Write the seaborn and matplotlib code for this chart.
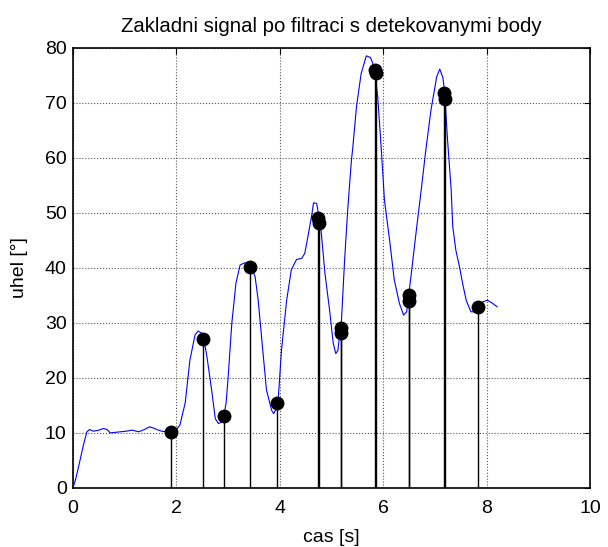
import numpy as np
import pandas as pd
import seaborn as sns
import matplotlib
matplotlib.use("Agg")
import matplotlib.pyplot as plt

# filtered signal
cas = [0.00, 0.05, 0.10, 0.15, 0.21, 0.27, 0.32, 0.40, 0.50, 0.59, 0.66, 0.72, 0.82,
       0.92, 1.02, 1.14, 1.27, 1.38, 1.48, 1.55, 1.62, 1.72, 1.81, 1.90, 1.98, 2.07,
       2.17, 2.26, 2.36, 2.42, 2.49, 2.54, 2.59, 2.68, 2.75, 2.81, 2.86, 2.91, 2.96,
       3.00, 3.07, 3.15, 3.23, 3.32, 3.40, 3.46, 3.52, 3.58, 3.65, 3.74, 3.84, 3.88,
       3.92, 3.97, 4.03, 4.13, 4.22, 4.32, 4.42, 4.48, 4.54, 4.61, 4.65, 4.71, 4.76,
       4.80, 4.87, 4.96, 5.03, 5.08, 5.12, 5.19, 5.25, 5.31, 5.38, 5.41, 5.48, 5.57,
       5.67, 5.75, 5.82, 5.89, 5.96, 6.02, 6.12, 6.21, 6.31, 6.39, 6.45, 6.54, 6.63,
       6.73, 6.82, 6.92, 7.03, 7.09, 7.15, 7.18, 7.24, 7.31, 7.34, 7.40, 7.47, 7.53,
       7.60, 7.69, 7.79, 7.86, 7.92, 8.01, 8.10, 8.20]
uhel = [0.0, 1.5, 3.5, 5.6, 8.1, 10.2, 10.6, 10.3, 10.5, 10.8, 10.6, 10.0, 10.1,
        10.2, 10.3, 10.5, 10.2, 10.6, 11.1, 10.9, 10.6, 10.3, 10.2, 10.0, 10.3, 11.5,
        15.5, 23.2, 27.8, 28.5, 28.1, 26.5, 23.8, 17.8, 12.6, 11.7, 11.9, 12.6, 15.5,
        20.2, 29.9, 37.2, 40.5, 40.9, 40.6, 39.8, 38.4, 34.1, 26.9, 17.8, 14.1, 13.5,
        14.2, 16.5, 25.0, 34.1, 39.6, 41.5, 41.7, 42.6, 45.6, 49.3, 51.8, 51.7, 49.0,
        46.3, 39.0, 32.3, 26.3, 24.4, 25.0, 30.5, 41.4, 50.5, 59.3, 62.0, 69.3, 75.3,
        78.5, 78.2, 76.5, 71.1, 61.4, 52.3, 45.0, 37.8, 33.5, 31.4, 32.0, 39.0, 46.3,
        54.1, 61.4, 68.7, 74.7, 76.1, 74.5, 72.3, 63.2, 54.1, 47.5, 43.2, 40.2, 37.2,
        34.1, 32.0, 32.0, 33.0, 33.8, 34.1, 33.6, 32.9]

# detected points
body_cas = [1.90, 2.51, 2.91, 3.43, 3.94, 4.74, 4.76, 5.18, 5.18, 5.84, 5.85,
            6.49, 6.50, 7.18, 7.19, 7.83]
body_uhel = [10.2, 27.0, 13.1, 40.2, 15.5, 49.0, 48.2, 29.0, 28.1, 76.0, 75.3,
             35.0, 34.0, 71.8, 70.6, 32.9]

x_ticks = [0, 2, 4, 6, 8, 10]
y_ticks = [0, 10, 20, 30, 40, 50, 60, 70, 80]

sns.set_style("white")
plt.rcParams['font.family'] = ['Liberation Sans', 'DejaVu Sans']
plt.rcParams['text.color'] = 'black'
plt.rcParams['axes.labelcolor'] = 'black'

signal = pd.DataFrame({"cas": cas, "uhel": uhel})
body = pd.DataFrame({"cas": body_cas, "uhel": body_uhel})

fig, ax = plt.subplots(figsize=(6.08, 5.47), dpi=100)
fig.subplots_adjust(left=0.12, right=0.971, top=0.913, bottom=0.108)

sns.lineplot(data=signal, x="cas", y="uhel", color="#0000ff", linewidth=0.8,
             ax=ax, zorder=3)
ax.vlines(body["cas"], 0, body["uhel"], color="black", linewidth=1.0, zorder=4)
sns.scatterplot(data=body, x="cas", y="uhel", color="black", s=100,
                edgecolor="black", linewidth=0, ax=ax, zorder=5)

ax.set_xlim(0, 10)
ax.set_ylim(0, 80)
ax.set_xticks(x_ticks)
ax.set_yticks(y_ticks)
ax.grid(True, linestyle=":", color="#555555", linewidth=0.8)
ax.tick_params(direction="in", length=4, width=0.8, labelsize=14,
               top=True, right=True, colors="black")
ax.tick_params(axis="x", pad=9)
ax.tick_params(axis="y", pad=4.5)
for s in ax.spines.values():
    s.set_color("black")
    s.set_linewidth(1.2)

ax.set_xlabel("cas [s]", fontsize=14, labelpad=8)
ax.set_ylabel("uhel [°]", fontsize=14, labelpad=12)
ax.set_title("Zakladni signal po filtraci s detekovanymi body", fontsize=14.7, pad=11.5)

fig.savefig("out.png", dpi=100)
